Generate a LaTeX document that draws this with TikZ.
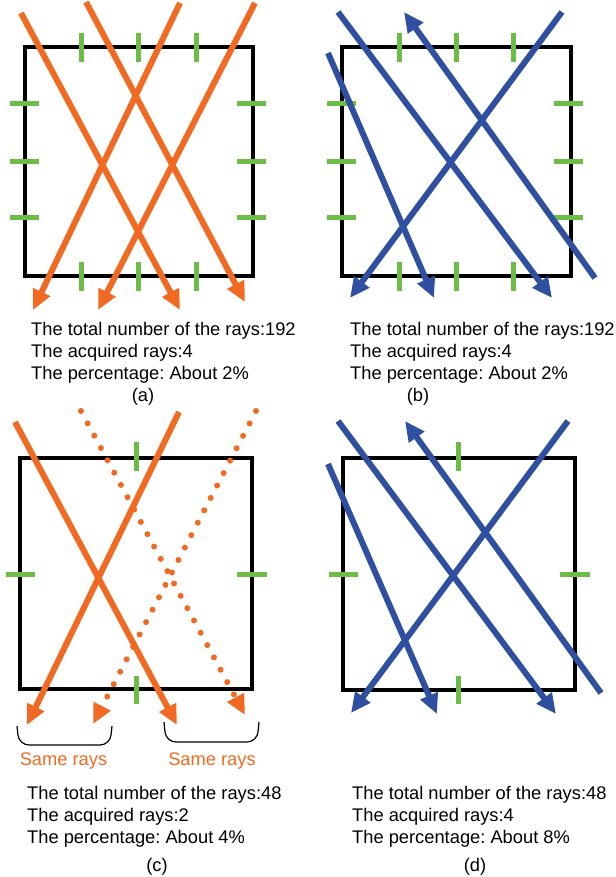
\documentclass[tikz,border=0pt]{standalone}
\usepackage{fontspec}
\setmainfont{Liberation Sans}
\usetikzlibrary{arrows.meta}
\definecolor{rayorange}{RGB}{242,106,33}
\definecolor{rayblue}{RGB}{47,79,160}
\definecolor{tickgreen}{RGB}{108,189,69}
\frenchspacing

\begin{document}
\begin{tikzpicture}[x=1pt, y=-1pt,
    box/.style={draw=black, line width=4.5pt},
    tick/.style={draw=tickgreen, line width=5pt},
    oray/.style={draw=rayorange, line width=6pt, -{Triangle[length=20pt,width=18pt]}},
    bray/.style={draw=rayblue, line width=6pt, -{Triangle[length=20pt,width=18pt]}},
    dray/.style={oray, line cap=round, dash pattern=on 0pt off 14pt},
    info/.style={anchor=north west, inner sep=0pt, align=left, font=\fontsize{18.3}{22}\selectfont},
    caption/.style={font=\fontsize{18.3}{22}\selectfont},
    same/.style={text=rayorange, font=\fontsize{18.3}{22}\selectfont}]
    \useasboundingbox (0,0) rectangle (615,877);

    % Boxes
    \draw[box] (25,47) rectangle (253,276);
    \draw[box] (342,47) rectangle (571,276);
    \draw[box] (20,458) rectangle (252,689);
    \draw[box] (343,458) rectangle (575,690);

    % Detector ticks
    \foreach \x in {81,138,196} {
        \draw[tick] (\x,33) -- (\x,62);
        \draw[tick] (\x,262) -- (\x,291);
    }
    \foreach \y in {104,162,218} {
        \draw[tick] (10,\y) -- (39,\y);
        \draw[tick] (237,\y) -- (266,\y);
    }
    \foreach \x in {399,456,513} {
        \draw[tick] (\x,33) -- (\x,62);
        \draw[tick] (\x,262) -- (\x,291);
    }
    \foreach \y in {104,162,218} {
        \draw[tick] (327,\y) -- (356,\y);
        \draw[tick] (554,\y) -- (583,\y);
    }
    \draw[tick] (136,442) -- (136,471);
    \draw[tick] (136,676) -- (136,704);
    \draw[tick] (6,574) -- (35,574);
    \draw[tick] (237,574) -- (267,574);
    \draw[tick] (458,442) -- (458,471);
    \draw[tick] (458,676) -- (458,704);
    \draw[tick] (329,574) -- (358,574);
    \draw[tick] (560,574) -- (590,574);

    % Rays (a)
    \draw[oray] (21,13) -- (180,310);
    \draw[oray] (86,2) -- (245,302);
    \draw[oray] (180,3) -- (33,310);
    \draw[oray] (255,3) -- (98,310);

    % Rays (b)
    \draw[bray] (338,12) -- (552,298);
    \draw[bray] (328,53) -- (434,298);
    \draw[bray] (562,12) -- (350,298);
    \draw[bray] (595,278) -- (404,12);

    % Rays (c)
    \draw[oray] (15,422) -- (177,725);
    \draw[oray] (179,412) -- (27,725);
    \draw[dray] (81,411) -- (245,715);
    \draw[dray] (256,411) -- (93,724);

    % Rays (d)
    \draw[bray] (338,421) -- (556,714);
    \draw[bray] (328,464) -- (437,714);
    \draw[bray] (568,421) -- (351,713);
    \draw[bray] (601,693) -- (405,421);

    % Brackets
    \draw[line width=1.2pt, rounded corners=10pt] (17,726) -- (19,745) -- (110,745) -- (112,726);
    \draw[line width=1.2pt, rounded corners=10pt] (164,722) -- (166,742) -- (257,742) -- (259,722);
    \node[same] (same1) at (63.5,761) {Same rays};
    \node[same] (same2) at (212,761) {Same rays};

    % Texts
    \node[info] (ta) at (31,321.7) {The total number of the rays:192\\The acquired rays:4\\The percentage: About 2\%};
    \node[info] (tb) at (350,321.7) {The total number of the rays:192\\The acquired rays:4\\The percentage: About 2\%};
    \node[info] (tc) at (27,785.7) {The total number of the rays:48\\The acquired rays:2\\The percentage: About 4\%};
    \node[info] (td) at (352,785.7) {The total number of the rays:48\\The acquired rays:4\\The percentage: About 8\%};
    \node[caption] (capa) at (143,397) {(a)};
    \node[caption] (capb) at (418,397) {(b)};
    \node[caption] (capc) at (157,867) {(c)};
    \node[caption] (capd) at (475,867) {(d)};
\end{tikzpicture}
\end{document}
